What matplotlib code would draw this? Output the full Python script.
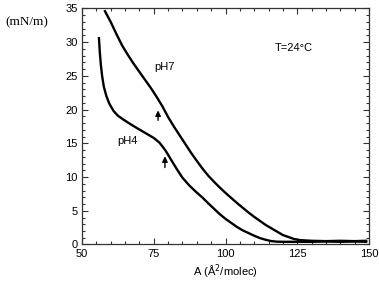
import matplotlib
matplotlib.use("Agg")
import matplotlib.pyplot as plt
from matplotlib.ticker import MultipleLocator

# pH7 isotherm (surface pressure vs molecular area)
area_ph7 = [58.0, 60, 62, 64, 66, 68, 70, 72, 74, 76, 78, 80, 82, 84, 86, 88, 90,
            92, 94, 96, 98, 100, 102, 104, 106, 108, 110, 112, 114, 116, 118, 120,
            122, 124, 126, 128, 130, 135, 140, 145, 149]
pi_ph7 = [34.6, 33.0, 31.2, 29.5, 28.1, 26.8, 25.6, 24.4, 23.2, 21.9, 20.5, 18.9,
          17.5, 16.2, 14.9, 13.6, 12.4, 11.25, 10.2, 9.3, 8.45, 7.65, 6.9, 6.15, 5.45,
          4.75, 4.1, 3.5, 2.9, 2.4, 1.9, 1.4, 1.1, 0.8, 0.65, 0.6, 0.55, 0.5, 0.55,
          0.5, 0.55]

# pH4 isotherm
area_ph4 = [55.9, 56.2, 56.6, 57.0, 57.6, 58.5, 59.5, 61, 62.5, 64.5, 66.7, 69, 71,
            73, 75, 77, 79, 81, 83, 85, 87.5, 90, 92, 94, 96, 98, 100, 102, 104, 106,
            108, 110, 112, 114, 116, 118, 120, 125, 130, 135, 140, 145, 149]
pi_ph4 = [30.6, 28.5, 26.5, 25.0, 23.4, 22.0, 20.9, 19.8, 19.1, 18.5, 17.9, 17.3,
          16.8, 16.3, 15.8, 15.1, 14.0, 12.6, 11.2, 9.9, 8.7, 7.7, 6.95, 6.1, 5.3,
          4.5, 3.8, 3.2, 2.6, 2.1, 1.7, 1.3, 0.95, 0.7, 0.5, 0.42, 0.4, 0.4, 0.4,
          0.45, 0.4, 0.45, 0.4]

x_ticks = [50, 75, 100, 125, 150]
y_ticks = [0, 5, 10, 15, 20, 25, 30, 35]

fig = plt.figure(figsize=(3.79, 2.81), dpi=100)
ax = fig.add_axes([0.2164, 0.1299, 0.7572, 0.8399])
font = "Liberation Sans"

ax.plot(area_ph7, pi_ph7, color="black", lw=1.7, solid_joinstyle="round")
ax.plot(area_ph4, pi_ph4, color="black", lw=1.7, solid_joinstyle="round")

ax.set_xlim(50, 150)
ax.set_ylim(0, 35)
ax.set_xticks(x_ticks)
ax.set_yticks(y_ticks)
ax.xaxis.set_minor_locator(MultipleLocator(5))
ax.yaxis.set_minor_locator(MultipleLocator(1))
ax.tick_params(which="both", direction="in", top=True, right=True, color="#333333", width=0.8)
ax.tick_params(which="major", length=4, labelsize=8, pad=3)
ax.tick_params(which="minor", length=2)
for lbl in ax.get_xticklabels() + ax.get_yticklabels():
    lbl.set_fontfamily(font)
for s in ax.spines.values():
    s.set_color("#333333")
    s.set_linewidth(0.9)

ax.set_xlabel("A (Å$^2$/molec)", fontfamily=font, fontsize=8, labelpad=3)
fig.text(0.013, 0.922, "(mN/m)", fontfamily="Liberation Serif", fontsize=9.5,
         ha="left", va="center")

ax.text(78.6, 26.3, "pH7", fontfamily=font, fontsize=8, ha="center", va="center")
ax.text(65.7, 15.3, "pH4", fontfamily=font, fontsize=8, ha="center", va="center")
ax.text(123.7, 29.1, "T=24°C", fontfamily=font, fontsize=8, ha="center", va="center")

ax.annotate("", xy=(76.5, 20.3), xytext=(76.5, 18.0),
            arrowprops=dict(arrowstyle="-|>", color="black", lw=1.0, mutation_scale=8))
ax.annotate("", xy=(78.9, 13.5), xytext=(78.9, 11.0),
            arrowprops=dict(arrowstyle="-|>", color="black", lw=1.0, mutation_scale=8))

fig.savefig("out.png", dpi=100)
